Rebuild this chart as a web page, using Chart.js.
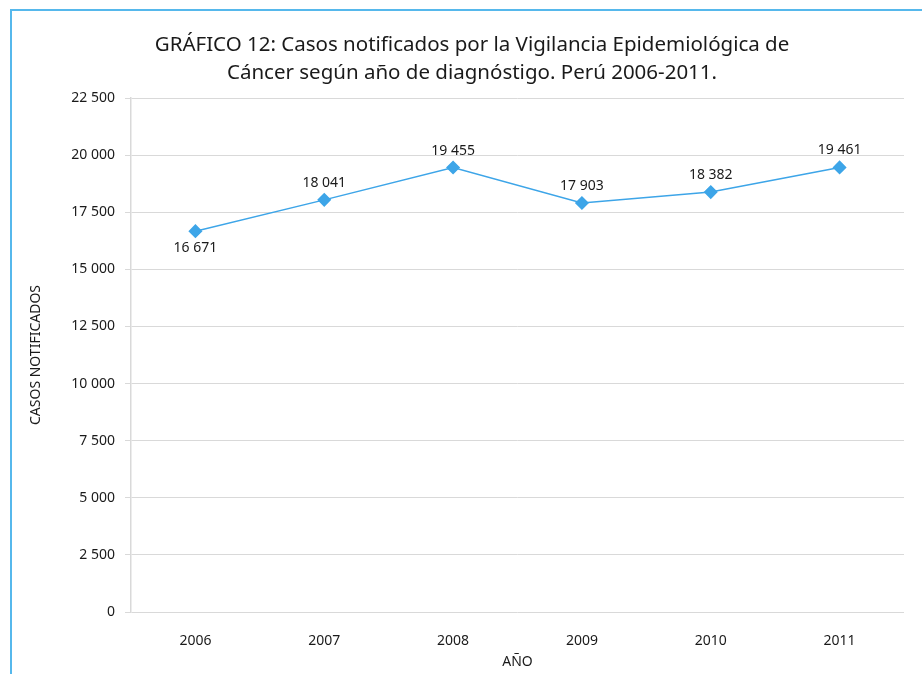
<!DOCTYPE html>
<html>
<head>
<meta charset="utf-8">
<script src="https://cdn.jsdelivr.net/npm/chart.js@4"></script>
<style>
    html, body { margin: 0; padding: 0; background: #fff; }
    #wrap { position: relative; width: 922px; height: 674px; overflow: hidden; }
    #marco {
        position: absolute; left: 10px; top: 9px; width: 940px; height: 700px;
        border-left: 2px solid #56b8ec; border-top: 2px solid #56b8ec;
    }
    canvas { position: absolute; left: 0; top: 0; }
</style>
</head>
<body>
<div id="wrap">
    <div id="marco"></div>
    <canvas id="grafico" width="922" height="674"></canvas>
</div>
<script>
// ==================== DATOS ====================

const anios = ['2006', '2007', '2008', '2009', '2010', '2011'];
const casosNotificados = [16671, 18041, 19455, 17903, 18382, 19461];
const posicionEtiqueta = ['abajo', 'arriba', 'arriba', 'arriba', 'arriba', 'arriba'];
const tituloLineas = [
    'GRÁFICO 12: Casos notificados por la Vigilancia Epidemiológica de',
    'Cáncer según año de diagnóstigo. Perú 2006-2011.'
];

const FUENTE = "'Noto Sans', 'Open Sans', sans-serif";
const AZUL = '#3da5e8';
const GRIS = '#d9d9d9';
const TEXTO = '#1a1a1a';

const formatoMiles = v => String(v).replace(/\B(?=(\d{3})+(?!\d))/g, ' ');

// ── Plugin: título en dos líneas ───────────────────────────
const pluginTitulo = {
    id: 'tituloGrafico',
    afterDraw(chart) {
        const ctx = chart.ctx;
        ctx.save();
        ctx.font = `20.5px ${FUENTE}`;
        ctx.fillStyle = TEXTO;
        ctx.textAlign = 'center';
        ctx.textBaseline = 'middle';
        tituloLineas.forEach((l, i) => ctx.fillText(l, 472, 45 + i * 28));
        ctx.restore();
    }
};

// ── Plugin: etiquetas de datos ─────────────────────────────
const pluginEtiquetas = {
    id: 'etiquetasDatos',
    afterDatasetsDraw(chart) {
        const ctx = chart.ctx;
        const meta = chart.getDatasetMeta(0);
        ctx.save();
        ctx.font = `14px ${FUENTE}`;
        ctx.fillStyle = TEXTO;
        ctx.textAlign = 'center';
        ctx.textBaseline = 'middle';
        meta.data.forEach((pt, i) => {
            const dy = posicionEtiqueta[i] === 'abajo' ? 17 : -17;
            ctx.fillText(formatoMiles(casosNotificados[i]), pt.x, pt.y + dy);
        });
        ctx.restore();
    }
};

new Chart(document.getElementById('grafico'), {
    type: 'line',
    data: {
        labels: anios,
        datasets: [{
            label: 'Casos notificados',
            data: casosNotificados,
            borderColor: AZUL,
            backgroundColor: AZUL,
            borderWidth: 1.5,
            tension: 0,
            pointStyle: 'rectRot',
            pointRadius: 6,
            pointHoverRadius: 6,
            pointBackgroundColor: AZUL,
            pointBorderColor: AZUL,
        }]
    },
    options: {
        responsive: false,
        animation: false,
        layout: { padding: { top: 98, right: 18, bottom: 0, left: 0 } },
        plugins: {
            legend: { display: false },
            title: { display: false },
            tooltip: { enabled: false }
        },
        scales: {
            x: {
                offset: true,
                grid: { display: false, drawTicks: false },
                border: { display: false },
                ticks: { color: TEXTO, font: { family: FUENTE, size: 14 }, padding: 21, maxRotation: 0 },
                title: { display: true, text: 'AÑO', color: TEXTO, font: { family: FUENTE, size: 14 }, padding: { top: 0, bottom: 4 } },
                afterFit: s => { s.height = 62; }
            },
            y: {
                min: 0,
                max: 22500,
                ticks: {
                    stepSize: 2500,
                    color: TEXTO,
                    font: { family: FUENTE, size: 14 },
                    padding: 10,
                    callback: v => formatoMiles(v)
                },
                grid: { color: GRIS, lineWidth: 1, tickLength: 6 },
                border: { color: GRIS, width: 1.5 },
                title: { display: true, text: 'CASOS NOTIFICADOS', color: TEXTO, font: { family: FUENTE, size: 14 }, padding: { top: 28, bottom: 0 } },
                afterFit: s => { s.width = 131; }
            }
        }
    },
    plugins: [pluginTitulo, pluginEtiquetas]
});
</script>
</body>
</html>
